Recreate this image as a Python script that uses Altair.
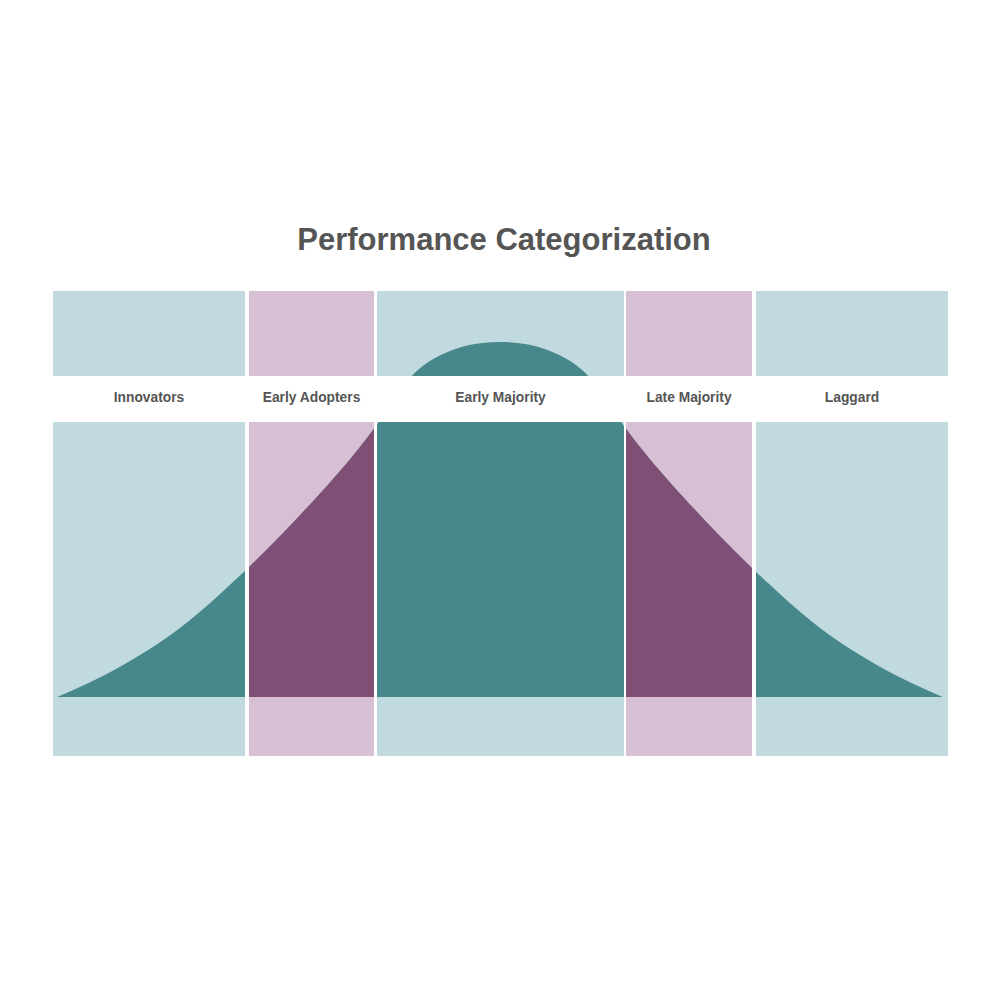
import altair as alt
import pandas as pd

# ---- data ----
categories = ["Innovators", "Early Adopters", "Early Majority", "Late Majority", "Laggard"]
col_start = [0, 196, 324, 573, 703]
col_end = [192, 321, 571, 699, 895]
col_group = ["teal", "purple", "teal", "purple", "teal"]

curve_x = [4.3, 29, 53.7, 87, 120.3, 153.7, 179, 194, 220.3, 253.7, 287, 307, 323,
           337, 358.7, 375.3, 390, 405.3, 422, 447,
           472, 488.7, 504, 518.7, 535.3, 557, 571, 587, 607, 640.3, 673.7, 700,
           715, 740.3, 773.7, 807, 840.3, 865, 889.7]
curve_h = [0, 11, 23, 42, 64, 91, 114, 128, 154, 189, 226, 250, 271,
           292, 321, 335, 343, 349, 353, 355,
           353, 349, 343, 335, 321, 292, 271, 250, 226, 189, 154, 128,
           114, 91, 64, 42, 23, 11, 0]

band_low, band_high = 275, 321
y_low, y_high = -59, 406
x_low, x_high = 0, 895

title_text = "Performance Categorization"

# ---- styles ----
LIGHT = {"teal": "#c0dadf", "purple": "#d7c0d3"}
DARK = {"teal": "#47888d", "purple": "#7f4f76"}
TEXT = "#555555"
FONT = "Liberation Sans"
CURVE = "catmull-rom"

cols_df = pd.DataFrame({
    "name": categories,
    "start": col_start,
    "end": col_end,
    "group": col_group,
    "bottom": [y_low] * len(categories),
    "top": [y_high] * len(categories),
})
cols_df["center"] = (cols_df["start"] + cols_df["end"]) / 2

curve_df = pd.DataFrame({"x": curve_x, "h": curve_h})
curve_df["base"] = 0

gaps_df = pd.DataFrame({
    "lo": col_end[:-1],
    "hi": col_start[1:],
    "bottom": [y_low] * (len(categories) - 1),
    "top": [y_high] * (len(categories) - 1),
})

band_df = pd.DataFrame({"lo": [x_low], "hi": [x_high], "b": [band_low], "t": [band_high]})

xs = alt.Scale(domain=[x_low, x_high], nice=False, zero=False)
ys = alt.Scale(domain=[y_low, y_high], nice=False, zero=False)

layers = []

# background column rectangles
for g in ["teal", "purple"]:
    layers.append(
        alt.Chart(cols_df).transform_filter(alt.datum.group == g)
        .mark_rect(color=LIGHT[g])
        .encode(
            x=alt.X("start:Q", scale=xs, axis=None),
            x2="end:Q",
            y=alt.Y("bottom:Q", scale=ys, axis=None),
            y2="top:Q",
        )
    )

# full curve in dark teal
layers.append(
    alt.Chart(curve_df).mark_area(color=DARK["teal"], interpolate=CURVE)
    .encode(
        x=alt.X("x:Q", scale=xs, axis=None),
        y=alt.Y("h:Q", scale=ys, axis=None),
        y2="base:Q",
    )
)

# purple overlays over purple columns (extending into the neighbouring gaps)
for i, g in enumerate(col_group):
    if g != "purple":
        continue
    lo = col_end[i - 1]
    hi = col_start[i + 1]
    layers.append(
        alt.Chart(curve_df)
        .transform_filter(alt.FieldRangePredicate(field="x", range=[lo, hi]))
        .mark_area(color=DARK["purple"], interpolate=CURVE)
        .encode(
            x=alt.X("x:Q", scale=xs, axis=None),
            y=alt.Y("h:Q", scale=ys, axis=None),
            y2="base:Q",
        )
    )

# white gaps between columns
layers.append(
    alt.Chart(gaps_df).mark_rect(color="white")
    .encode(
        x=alt.X("lo:Q", scale=xs, axis=None),
        x2="hi:Q",
        y=alt.Y("bottom:Q", scale=ys, axis=None),
        y2="top:Q",
    )
)

# white label band
layers.append(
    alt.Chart(band_df).mark_rect(color="white")
    .encode(
        x=alt.X("lo:Q", scale=xs, axis=None),
        x2="hi:Q",
        y=alt.Y("b:Q", scale=ys, axis=None),
        y2="t:Q",
    )
)

# labels
layers.append(
    alt.Chart(cols_df).mark_text(
        font=FONT, fontSize=13.8, fontWeight="bold", color=TEXT,
        align="center", baseline="alphabetic",
    ).encode(
        x=alt.X("center:Q", scale=xs, axis=None),
        y=alt.value(111),
        text="name:N",
    )
)

# title
layers.append(
    alt.Chart(pd.DataFrame({"t": [title_text]})).mark_text(
        font=FONT, fontSize=31, fontWeight="bold", color=TEXT,
        align="center", baseline="alphabetic",
    ).encode(
        x=alt.value(451),
        y=alt.value(-41),
        text="t:N",
    )
)

chart = alt.layer(*layers).properties(
    width=895,
    height=465,
    padding={"left": 45, "top": 283, "right": 44, "bottom": 200},
    autosize=alt.AutoSizeParams(type="none"),
    background="white",
).configure_view(stroke=None)

chart.save("out.html", embed_options={"renderer": "svg", "actions": False})
